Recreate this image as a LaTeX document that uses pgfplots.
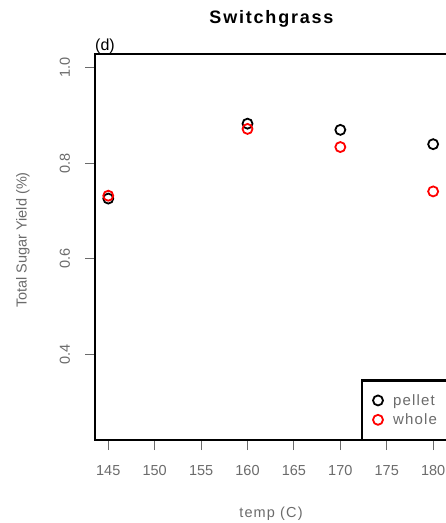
\documentclass[border=0pt]{standalone}
\usepackage{fontspec}
\setmainfont{Liberation Sans}
\newfontfamily\spacedfont[LetterSpace=8]{Liberation Sans}
\newfontfamily\titlefont[LetterSpace=10]{Liberation Sans}
\usepackage{pgfplots}
\pgfplotsset{compat=1.18}
\definecolor{tgray}{gray}{0.42}
\begin{document}
\begin{tikzpicture}
\path[use as bounding box, clip] (0pt,0pt) rectangle (446pt,523pt);
\begin{axis}[
  name=ax,
  at={(95pt,83pt)}, anchor=south west,
  scale only axis, width=353pt, height=386pt,
  xmin=143.57, xmax=181.6, ymin=0.22, ymax=1.029,
  axis line style={line width=2.6pt, black},
  tick align=outside, major tick length=10pt,
  every tick/.style={tgray, line width=0.9pt},
  xtick={145,150,...,180}, ytick={0.4,0.6,0.8,1.0},
  xtick pos=bottom, ytick pos=left,
  minor tick num=0,
  /pgf/number format/assume math mode=true,
  ticklabel style={font=\fontsize{14.5}{16}\selectfont, text=tgray},
  xticklabel style={yshift=-12pt},
  yticklabel style={xshift=-15pt, rotate=90, anchor=base,
    /pgf/number format/.cd, fixed, fixed zerofill, precision=1},
  legend style={at={(1,0)}, anchor=south east, draw=black, line width=2.6pt,
    outer sep=0pt,
    inner xsep=10pt, inner ysep=14pt, row sep=7pt,
    nodes={inner sep=0pt},
    font=\spacedfont\fontsize{15}{17}\selectfont, text=tgray},
  legend cell align=left,
  legend image code/.code={\path[draw=none, fill=none] (0pt,-6pt) rectangle (21pt,6pt); \draw[#1, mark size=5pt, line width=2pt] plot coordinates {(6pt,0pt)};},
]
\addplot[only marks, mark=o, mark size=5pt, mark options={line width=1.8pt, draw=black}]
  coordinates {(145,0.726) (160,0.883) (170,0.870) (180,0.840)};
\addlegendentry{\makebox[45pt][l]{pellet}}
\addplot[only marks, mark=o, mark size=5pt, mark options={line width=1.8pt, draw=red}]
  coordinates {(145,0.732) (160,0.872) (170,0.834) (180,0.741)};
\addlegendentry{\makebox[45pt][l]{whole}}
\end{axis}
\node[anchor=base, font=\titlefont\bfseries\fontsize{18}{20}\selectfont] at ([yshift=31pt]ax.north) {Switchgrass};
\node[anchor=base west, font=\fontsize{16}{18}\selectfont, inner sep=0pt] at (95pt,472pt) {(d)};
\node[anchor=center, font=\spacedfont\fontsize{14.5}{16}\selectfont, text=tgray] at (271pt,9pt) {temp (C)};
\node[anchor=center, rotate=90, font=\fontsize{14.5}{16}\selectfont, text=tgray] at (23pt,283pt) {Total Sugar Yield (\%)};
\end{tikzpicture}
\end{document}
